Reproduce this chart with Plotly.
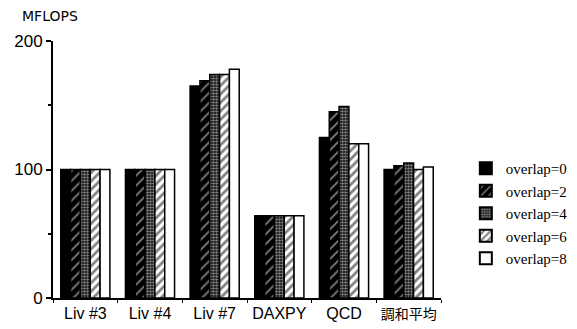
import plotly.graph_objects as go

categories = ["Liv #3", "Liv #4", "Liv #7", "DAXPY", "QCD", "調和平均"]
series_names = ["overlap=0", "overlap=2", "overlap=4", "overlap=6", "overlap=8"]
overlap0 = [100, 100, 165, 64, 125, 100]
overlap2 = [100, 100, 169, 64, 145, 103]
overlap4 = [100, 100, 174, 64, 149, 105]
overlap6 = [100, 100, 174, 64, 120, 100]
overlap8 = [100, 100, 178, 64, 120, 102]
series_values = [overlap0, overlap2, overlap4, overlap6, overlap8]
y_ticks = [0, 100, 200]

tick_text = [c if c.isascii() else '<span style="font-size:14px">' + c + '</span>' for c in categories]

patterns = [
    dict(shape="", bgcolor="black", fgcolor="black"),
    dict(shape="/", bgcolor="black", fgcolor="white", size=7, solidity=0.25),
    dict(shape=".", bgcolor="black", fgcolor="white", size=3, solidity=0.6),
    dict(shape="/", bgcolor="white", fgcolor="black", size=6, solidity=0.45),
    dict(shape="", bgcolor="white", fgcolor="white"),
]
colors = ["black", "black", "black", "white", "white"]

fig = go.Figure()
for name, vals, pat, col in zip(series_names, series_values, patterns, colors):
    fig.add_trace(go.Bar(
        x=categories, y=vals, name=name,
        marker=dict(color=col, pattern=pat, line=dict(color="black", width=1.5)),
    ))

fig.update_layout(
    width=577, height=329,
    margin=dict(l=45, r=128, t=33, b=39),
    plot_bgcolor="white", paper_bgcolor="white",
    barmode="group", bargap=0.24, bargroupgap=0,
    font=dict(family="Liberation Sans, Arial, Noto Sans CJK JP", size=16, color="black"),
    showlegend=True,
    legend=dict(
        x=1.064, y=0.329, xanchor="left", yanchor="middle",
        font=dict(family="Liberation Serif, Times New Roman", size=15, color="black"),
        itemsizing="constant", tracegroupgap=0, bgcolor="rgba(0,0,0,0)",
    ),
    annotations=[dict(
        text="MFLOPS", x=-0.085, y=1.097, xref="paper", yref="paper",
        xanchor="left", yanchor="middle", showarrow=False,
        font=dict(family="DejaVu Sans, Liberation Sans", size=14, color="black"),
    )],
)
fig.update_xaxes(
    showline=True, linecolor="black", linewidth=2,
    ticks="outside", tickson="boundaries", ticklen=3, tickcolor="black",
    showgrid=False, range=[-0.5, 5.5], tickangle=0, automargin=False,
    tickvals=categories, ticktext=tick_text,
    tickfont=dict(family="Liberation Sans, Arial, Noto Sans CJK JP", size=16, color="black"),
)
fig.update_yaxes(
    range=[0, 200], tickvals=y_ticks, ticktext=[str(v) for v in y_ticks],
    showline=True, linecolor="black", linewidth=2, automargin=False,
    ticks="outside", ticklen=5, tickcolor="black", tickwidth=2,
    minor=dict(dtick=50, ticks="outside", ticklen=3, tickcolor="black"),
    showgrid=False, zeroline=False,
    tickfont=dict(family="Liberation Sans, Arial", size=17, color="black"),
)
fig.write_html("out.html")
